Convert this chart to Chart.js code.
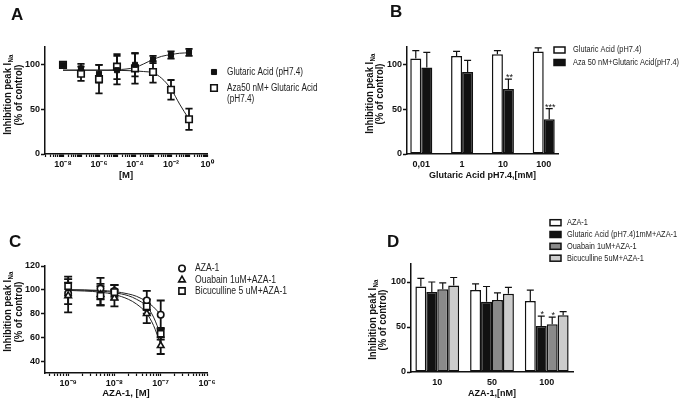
<!DOCTYPE html>
<html>
<head>
<meta charset="utf-8">
<script src="https://cdn.jsdelivr.net/npm/chart.js@4.4.1/dist/chart.umd.min.js"></script>
<style>
  html, body { margin: 0; padding: 0; background: #fff; }
  body { width: 685px; height: 402px; position: relative; overflow: hidden; }
  canvas { position: absolute; }
</style>
</head>
<body>
<canvas id="panelA" width="345" height="200" style="left:0;top:0"></canvas>
<canvas id="panelB" width="340" height="200" style="left:345px;top:0"></canvas>
<canvas id="panelC" width="345" height="202" style="left:0;top:200px"></canvas>
<canvas id="panelD" width="340" height="202" style="left:345px;top:200px"></canvas>
<script>
// ---- data ----
// A: dose response to glutaric acid, with and without Aza 50 nM
const doseA = [1e-8, 1e-7, 1e-6, 1e-5, 1e-4, 1e-3, 1e-2, 1e-1];
const glutA = [100, 96, 90, 94, 100, 106, 111, 114];
const glutAErr = [0, 5, 10, 16, 13, 4, 4, 4];
const azaA = [100, 90, 84, 98, 96, 92, 72, 39];
const azaAErr = [0, 8, 16, 14, 17, 12, 11, 12];
const fitXA = [1e-8, 1e-6, 1e-5, 1e-4, 3e-4, 1e-3, 3e-3, 1e-2, 3e-2, 1e-1];
const fitGlutA = [94, 94, 94.5, 97, 101, 106, 109.5, 111.5, 113, 113.5];
const fitAzaA = [94, 94, 93.8, 93.2, 92.5, 91, 85, 73, 56, 39];

// B: bars at four glutaric acid concentrations
const concB = ['0,01', '1', '10', '100'];
const glutB = [107, 110, 112, 115];
const glutBErr = [9, 5, 4, 4];
const azaB = [97, 92, 73, 39];
const azaBErr = [17, 13, 11, 12];
const starsB = ['', '', '**', '***'];

// C: AZA-1 dose response
const doseC = [1e-9, 5e-9, 1e-8, 5e-8, 1e-7];
const azaC = [97, 101, 99, 91, 79];
const azaCErr = [9, 9, 5, 8, 12];
const ouaC = [95, 96, 93, 80, 53];
const ouaCErr = [14, 9, 7, 8, 7];
const bicC = [103, 95, 98, 86, 63];
const bicCErr = [8, 8, 6, 6, 5];
const fitXC = [1e-9, 5e-9, 1e-8, 2e-8, 3e-8, 5e-8, 7e-8, 1e-7];
const fitAzaC = [100, 99.5, 98.5, 96.5, 94.5, 90, 85.5, 79];
const fitOuaC = [99.5, 98, 96, 92, 88, 80, 70, 54];
const fitBicC = [100, 99, 97.5, 95, 92, 86, 77, 62];

// D: bars at three AZA-1 concentrations
const concD = ['10', '50', '100'];
const azaD = [95, 91, 79];
const azaDErr = [9, 7, 12];
const glutD = [89, 78, 51];
const glutDErr = [11, 17, 11];
const ouaD = [92, 80, 53];
const ouaDErr = [7, 8, 8];
const bicD = [96, 87, 63];
const bicDErr = [9, 7, 4];
const starsGlutD = ['', '', '*'];
const starsOuaD = ['', '', '*'];

// ---- common look ----
const FONT = '"Liberation Sans", Arial, sans-serif';
const INK = '#111';
const NARROW = 0.82;   // the figure's lettering is condensed
Chart.defaults.font.family = FONT;
Chart.defaults.color = INK;
Chart.defaults.animation = false;

const SUP = { '-': '\u207B', '0': '\u2070', '1': '\u00B9', '2': '\u00B2', '3': '\u00B3', '4': '\u2074',
  '5': '\u2075', '6': '\u2076', '7': '\u2077', '8': '\u2078', '9': '\u2079' };
const pow10Label = e => '10' + String(e).split('').map(c => SUP[c]).join('');

const pts = (xs, ys) => xs.map((x, i) => ({ x: x, y: ys[i] }));

function yAxis(width, min, max, tickVals) {
  return {
    type: 'linear', min: min, max: max,
    afterBuildTicks: s => { s.ticks = tickVals.map(v => ({ value: v })); },
    afterFit: s => { s.width = width; },
    border: { color: INK, width: 1.5 },
    grid: { drawOnChartArea: false, color: INK, tickLength: 4, tickWidth: 1.5 },
    ticks: { font: { size: 9, weight: 'bold' }, padding: 1, color: INK }
  };
}

function logAxis(minExp, maxExp, labelExps, height, title) {
  const lo = Math.pow(10, minExp), hi = Math.pow(10, maxExp);
  return {
    type: 'logarithmic', min: lo, max: hi,
    afterBuildTicks: s => {
      const t = [];
      for (let e = Math.floor(minExp); e <= Math.ceil(maxExp); e++) {
        for (let m = 1; m <= 9; m++) {
          const v = m * Math.pow(10, e);
          if (v >= lo * 0.999 && v <= hi * 1.001) t.push({ value: v });
        }
      }
      s.ticks = t;
    },
    afterFit: s => { s.height = height; },
    border: { color: INK, width: 1.5 },
    grid: { drawOnChartArea: false, color: INK, tickLength: 3, tickWidth: 1.2 },
    ticks: {
      autoSkip: false, maxRotation: 0, padding: 2, color: INK,
      font: { size: 9, weight: 'bold' },
      callback: v => {
        const e = Math.log10(v), r = Math.round(e);
        return (Math.abs(e - r) < 1e-6 && labelExps.includes(r)) ? pow10Label(r) : '';
      }
    },
    title: { display: true, text: title, color: INK, padding: 0, font: { size: 9.5, weight: 'bold' } }
  };
}

function groupAxis(cats, min, max, height, title) {
  return {
    type: 'linear', min: min, max: max, offset: false,
    afterBuildTicks: s => { s.ticks = cats.map((c, i) => ({ value: i })); },
    afterFit: s => { s.height = height; },
    border: { color: INK, width: 1.5 },
    grid: { drawOnChartArea: false, drawTicks: false, offset: false },
    ticks: { autoSkip: false, maxRotation: 0, padding: 5, color: INK,
      font: { size: 9, weight: 'bold' }, callback: v => cats[v] },
    title: { display: true, text: title, color: INK, padding: 0, font: { size: 9, weight: 'bold' } }
  };
}

// ---- drawing helpers for error bars, legend, titles ----
function drawErrors(chart, cfg) {
  const ctx = chart.ctx, ys = chart.scales.y;
  chart.data.datasets.forEach((ds, di) => {
    if (!ds.err) return;
    const meta = chart.getDatasetMeta(di);
    meta.data.forEach((el, i) => {
      const v = ds.data[i].y, e = ds.err[i];
      const top = ys.getPixelForValue(v + e);
      ctx.save();
      ctx.strokeStyle = INK;
      ctx.lineWidth = cfg.errWidth;
      if (e) {
        const bot = cfg.upOnly ? el.y : ys.getPixelForValue(v - e);
        ctx.beginPath();
        ctx.moveTo(el.x, bot); ctx.lineTo(el.x, top);
        ctx.moveTo(el.x - cfg.cap, top); ctx.lineTo(el.x + cfg.cap, top);
        if (!cfg.upOnly) { ctx.moveTo(el.x - cfg.cap, bot); ctx.lineTo(el.x + cfg.cap, bot); }
        ctx.stroke();
      }
      if (ds.stars && ds.stars[i]) {
        ctx.fillStyle = INK;
        ctx.font = '9px ' + FONT;
        ctx.textAlign = 'center';
        ctx.textBaseline = 'alphabetic';
        ctx.fillText(ds.stars[i], el.x + 1, top + 1);
      }
      ctx.restore();
    });
  });
}

function drawMarker(ctx, ds, x, y, box) {
  ctx.save();
  ctx.fillStyle = ds.backgroundColor;
  ctx.strokeStyle = ds.borderColor;
  ctx.lineWidth = ds.borderWidth;
  if (box) {
    ctx.fillRect(x, y - box[1] / 2, box[0], box[1]);
    ctx.strokeRect(x, y - box[1] / 2, box[0], box[1]);
  } else {
    Chart.helpers.drawPoint(ctx, { pointStyle: ds.pointStyle, radius: ds.pointRadius,
      borderWidth: ds.borderWidth, rotation: 0 }, x, y);
  }
  ctx.restore();
}

function drawLegend(chart, lg) {
  const ctx = chart.ctx;
  lg.items.forEach((di, k) => {
    const ds = chart.data.datasets[di];
    const y = lg.ys[k];
    drawMarker(ctx, ds, lg.mx, y, lg.box);
    ctx.save();
    ctx.fillStyle = '#222';
    ctx.font = lg.size + 'px ' + FONT;
    ctx.textAlign = 'left';
    ctx.textBaseline = 'middle';
    ctx.translate(lg.tx, y);
    ctx.scale(NARROW, 1);
    ds.label.split('\n').forEach((line, j) => ctx.fillText(line, 0, j * lg.lh));
    ctx.restore();
  });
}

function drawYTitle(chart, t) {
  const ctx = chart.ctx;
  const k = 0.86;
  const big = 'bold ' + t.size + 'px ' + FONT, small = 'bold ' + Math.round(t.size * 0.68) + 'px ' + FONT;
  ctx.save();
  ctx.fillStyle = INK;
  ctx.textBaseline = 'middle';
  ctx.font = big;
  const w1 = ctx.measureText('Inhibition peak I').width;
  ctx.font = small;
  const w2 = ctx.measureText('Na').width;
  ctx.translate(t.x1, t.cy);
  ctx.rotate(-Math.PI / 2);
  ctx.scale(k, 1);
  ctx.textAlign = 'left';
  const sx = -(w1 + w2) / 2;
  ctx.font = big;
  ctx.fillText('Inhibition peak I', sx, 0);
  ctx.font = small;
  ctx.fillText('Na', sx + w1 + 0.5, 3);
  ctx.restore();
  ctx.save();
  ctx.fillStyle = INK;
  ctx.textBaseline = 'middle';
  ctx.textAlign = 'center';
  ctx.font = big;
  ctx.translate(t.x2, t.cy);
  ctx.rotate(-Math.PI / 2);
  ctx.scale(k, 1);
  ctx.fillText('(% of control)', 0, 0);
  ctx.restore();
}

function figPlugin(cfg) {
  return {
    id: 'fig',
    beforeDatasetsDraw(chart) { if (cfg.errBelow) drawErrors(chart, cfg); },
    afterDatasetsDraw(chart) { if (!cfg.errBelow) drawErrors(chart, cfg); },
    afterDraw(chart) {
      const ctx = chart.ctx;
      ctx.save();
      ctx.fillStyle = INK;
      ctx.font = 'bold 17px ' + FONT;
      ctx.textBaseline = 'alphabetic';
      ctx.fillText(cfg.letter[0], cfg.letter[1], cfg.letter[2]);
      ctx.restore();
      drawYTitle(chart, cfg.yTitle);
      drawLegend(chart, cfg.legend);
    }
  };
}

const baseOpts = {
  responsive: false,
  animation: false,
  events: [],
  plugins: { legend: { display: false }, tooltip: { enabled: false } }
};

function fitLine(xs, ys) {
  return { data: pts(xs, ys), showLine: true, pointRadius: 0, borderColor: '#222', borderWidth: 1,
    cubicInterpolationMode: 'monotone', fill: false, order: 10 };
}

// ---- A ----
new Chart(document.getElementById('panelA'), {
  type: 'scatter',
  data: {
    datasets: [
      { label: 'Glutaric Acid (pH7.4)', data: pts(doseA, glutA), err: glutAErr, order: 1,
        pointStyle: 'rect', pointRadius: 3.6, backgroundColor: INK, borderColor: INK, borderWidth: 1 },
      { label: 'Aza50 nM+ Glutaric Acid\n(pH7.4)', data: pts(doseA, azaA), err: azaAErr, order: 2,
        pointStyle: 'rect', pointRadius: 4.6, backgroundColor: '#fff', borderColor: INK, borderWidth: 1.6 },
      fitLine(fitXA, fitGlutA),
      fitLine(fitXA, fitAzaA)
    ]
  },
  options: Object.assign({}, baseOpts, {
    layout: { padding: { left: 0, top: 47, right: 138, bottom: 19 } },
    scales: {
      x: logAxis(-9, 0, [-8, -6, -4, -2, 0], 27, '[M]'),
      y: yAxis(45, 0, 120, [0, 50, 100])
    }
  }),
  plugins: [figPlugin({
    errBelow: true, errWidth: 1.8, cap: 3.6,
    letter: ['A', 11, 20],
    yTitle: { x1: 8, x2: 19, cy: 95, size: 11 },
    legend: { items: [0, 1], ys: [72, 88], mx: 214, tx: 227, lh: 11, size: 10 }
  })]
});

// ---- B ----
new Chart(document.getElementById('panelB'), {
  type: 'bar',
  data: {
    datasets: [
      { label: 'Glutaric Acid (pH7.4)', data: pts([0, 1, 2, 3], glutB), err: glutBErr,
        backgroundColor: '#fff', borderColor: INK, borderWidth: 1.5, borderSkipped: false },
      { label: 'Aza 50 nM+Glutaric Acid(pH7.4)', data: pts([0, 1, 2, 3], azaB), err: azaBErr, stars: starsB,
        backgroundColor: INK, borderColor: INK, borderWidth: 1.5, borderSkipped: false }
    ]
  },
  options: Object.assign({}, baseOpts, {
    datasets: { bar: { barPercentage: 1, categoryPercentage: 0.54 } },
    layout: { padding: { left: 0, top: 47, right: 127, bottom: 19 } },
    scales: {
      x: groupAxis(concB, -0.35, 3.35, 27, 'Glutaric Acid pH7.4,[mM]'),
      y: yAxis(62, 0, 120, [0, 50, 100])
    }
  }),
  plugins: [figPlugin({
    errBelow: false, upOnly: true, errWidth: 1.2, cap: 3.5,
    letter: ['B', 45, 17],
    yTitle: { x1: 25, x2: 35, cy: 94, size: 11 },
    legend: { items: [0, 1], ys: [50, 62.5], mx: 209, tx: 228, lh: 11, size: 9, box: [11, 6] }
  })]
});

// ---- C ----
new Chart(document.getElementById('panelC'), {
  type: 'scatter',
  data: {
    datasets: [
      { label: 'AZA-1', data: pts(doseC, azaC), err: azaCErr, order: 3,
        pointStyle: 'circle', pointRadius: 3.2, backgroundColor: '#fff', borderColor: INK, borderWidth: 1.6 },
      { label: 'Ouabain 1uM+AZA-1', data: pts(doseC, ouaC), err: ouaCErr, order: 2,
        pointStyle: 'triangle', pointRadius: 3.8, backgroundColor: '#fff', borderColor: INK, borderWidth: 1.6 },
      { label: 'Bicuculline 5 uM+AZA-1', data: pts(doseC, bicC), err: bicCErr, order: 1,
        pointStyle: 'rect', pointRadius: 4.4, backgroundColor: '#fff', borderColor: INK, borderWidth: 1.6 },
      fitLine(fitXC, fitAzaC),
      fitLine(fitXC, fitOuaC),
      fitLine(fitXC, fitBicC)
    ]
  },
  options: Object.assign({}, baseOpts, {
    layout: { padding: { left: 0, top: 66, right: 138, bottom: 3 } },
    scales: {
      x: logAxis(-9.5, -6, [-9, -8, -7, -6], 26, 'AZA-1, [M]'),
      y: yAxis(45, 30, 120, [40, 60, 80, 100, 120])
    }
  }),
  plugins: [figPlugin({
    errBelow: true, errWidth: 1.8, cap: 4,
    letter: ['C', 9, 47],
    yTitle: { x1: 8, x2: 19, cy: 112, size: 11 },
    legend: { items: [0, 1, 2], ys: [68.5, 80, 91], mx: 182, tx: 195, lh: 11, size: 10.5 }
  })]
});

// ---- D ----
new Chart(document.getElementById('panelD'), {
  type: 'bar',
  data: {
    datasets: [
      { label: 'AZA-1', data: pts([0, 1, 2], azaD), err: azaDErr,
        backgroundColor: '#fff', borderColor: INK, borderWidth: 1.5, borderSkipped: false },
      { label: 'Glutaric Acid (pH7.4)1mM+AZA-1', data: pts([0, 1, 2], glutD), err: glutDErr, stars: starsGlutD,
        backgroundColor: INK, borderColor: INK, borderWidth: 1.5, borderSkipped: false },
      { label: 'Ouabain 1uM+AZA-1', data: pts([0, 1, 2], ouaD), err: ouaDErr, stars: starsOuaD,
        backgroundColor: '#8a8a8a', borderColor: INK, borderWidth: 1.5, borderSkipped: false },
      { label: 'Bicuculline 5uM+AZA-1', data: pts([0, 1, 2], bicD), err: bicDErr,
        backgroundColor: '#cccccc', borderColor: INK, borderWidth: 1.5, borderSkipped: false }
    ]
  },
  options: Object.assign({}, baseOpts, {
    datasets: { bar: { barPercentage: 1, categoryPercentage: 0.8 } },
    layout: { padding: { left: 0, top: 64, right: 112, bottom: 3 } },
    scales: {
      x: groupAxis(concD, -0.48, 2.48, 27, 'AZA-1,[nM]'),
      y: yAxis(66, 0, 120, [0, 50, 100])
    }
  }),
  plugins: [figPlugin({
    errBelow: false, upOnly: true, errWidth: 1.2, cap: 3.5,
    letter: ['D', 42, 47],
    yTitle: { x1: 28, x2: 38, cy: 120, size: 11 },
    legend: { items: [0, 1, 2, 3], ys: [22.7, 34.5, 46.3, 58.2], mx: 205, tx: 222, lh: 11, size: 9, box: [11, 6] }
  })]
});
</script>
</body>
</html>
